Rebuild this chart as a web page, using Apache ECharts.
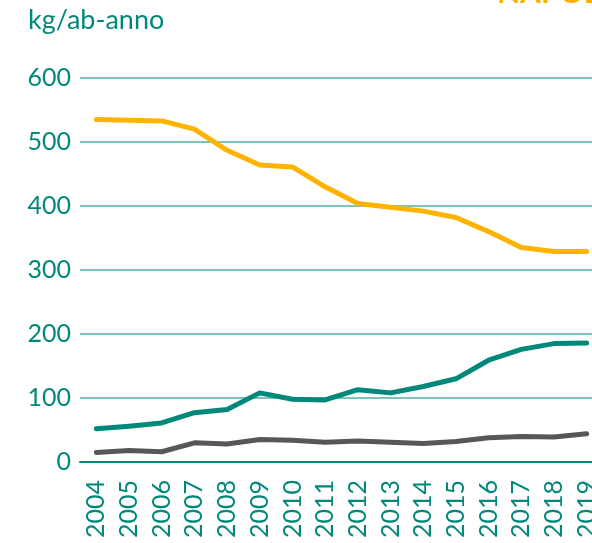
<!DOCTYPE html>
<html>
<head>
<meta charset="utf-8">
<script src="https://cdn.jsdelivr.net/npm/echarts@6/dist/echarts.min.js"></script>
<style>
html,body{margin:0;padding:0;overflow:hidden;background:#fff;}
#c{width:603px;height:543px;}
</style>
</head>
<body>
<div id="c"></div>
<script>
const years = ['2004','2005','2006','2007','2008','2009','2010','2011','2012','2013','2014','2015','2016','2017','2018','2019'];
const yellowSeries = [535,534,533,520,487,464,461,430,404,398,392,382,360,335,329,329];
const greenSeries  = [52,56,61,77,82,108,98,97,113,108,118,130,159,176,185,186];
const graySeries   = [15,18,16,30,28,35,34,31,33,31,29,32,38,40,39,44];
const yTicks = [0,100,200,300,400,500,600];
const unitLabel = 'kg/ab-anno';
const titleText = 'NAPOLI';

const teal = '#00897B';
const FONT = 'Lato';
const chart = echarts.init(document.getElementById('c'));
chart.setOption({
  animation: false,
  grid: {left: 80, right: 0, top: 78, bottom: 81, containLabel: false},
  graphic: [
    {type: 'text', left: 28, top: 7, style: {text: unitLabel, fill: teal, font: '27px ' + FONT}},
    {type: 'text', x: 497, y: 8, style: {text: titleText, fill: '#F9B000', font: 'bold 30px ' + FONT, verticalAlign: 'bottom'}}
  ],
  xAxis: {
    type: 'category',
    data: years,
    boundaryGap: true,
    axisLine: {show: true, lineStyle: {color: teal, width: 2}},
    axisTick: {show: false},
    axisLabel: {rotate: 90, color: teal, fontFamily: FONT, fontSize: 25, margin: 18, interval: 0}
  },
  yAxis: {
    type: 'value',
    min: 0, max: 600, interval: 100,
    axisLine: {show: false},
    axisTick: {show: false},
    splitLine: {lineStyle: {color: '#4FAFA5', width: 1.5}},
    axisLabel: {color: teal, fontFamily: FONT, fontSize: 25, margin: 9,
      formatter: v => yTicks.includes(v) ? String(v) : ''}
  },
  series: [
    {type: 'line', data: yellowSeries, symbol: 'none', lineStyle: {color: '#FDB300', width: 5, cap: 'round', join: 'round'}},
    {type: 'line', data: greenSeries, symbol: 'none', lineStyle: {color: '#00897B', width: 5, cap: 'round', join: 'round'}},
    {type: 'line', data: graySeries, symbol: 'none', lineStyle: {color: '#575757', width: 5, cap: 'round', join: 'round'}}
  ]
});
</script>
</body>
</html>
